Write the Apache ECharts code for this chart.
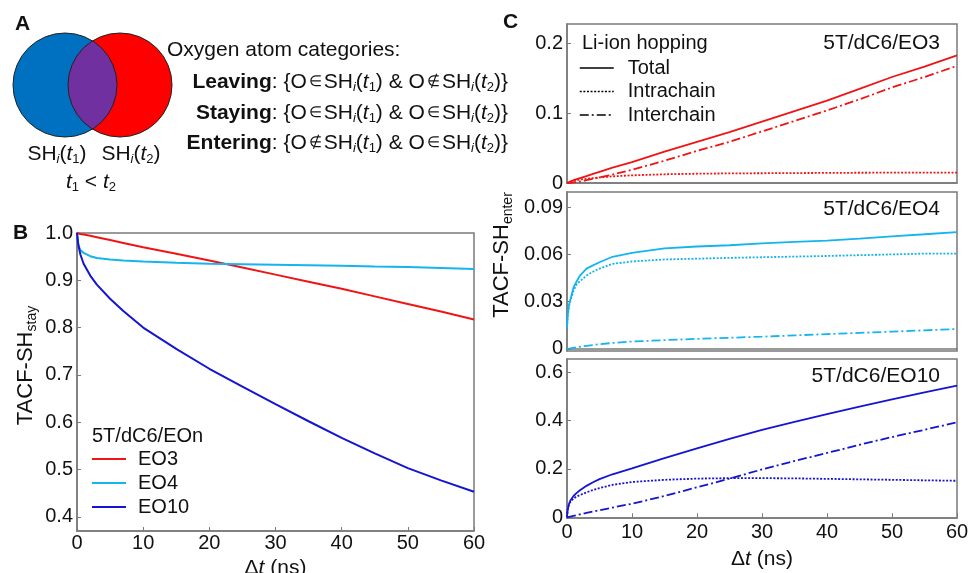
<!DOCTYPE html>
<html>
<head>
<meta charset="utf-8">
<script src="https://cdn.jsdelivr.net/npm/echarts@6/dist/echarts.min.js"></script>
<style>
  html, body { margin: 0; padding: 0; background: #fff; }
  #chart { width: 971px; height: 573px; }
</style>
</head>
<body>
<div id="chart"></div>
<script>
// panel B: TACF of staying oxygens
var tStay = [0, 0.2, 0.5, 1, 2, 3, 5, 7, 10, 15, 20, 25, 30, 35, 40, 45, 50, 55, 60];
var stayEO3 = [1.0, 0.999, 0.998, 0.997, 0.994, 0.991, 0.985, 0.979, 0.970, 0.956, 0.942, 0.927, 0.912, 0.897, 0.882, 0.866, 0.850, 0.834, 0.817];
var stayEO4 = [1.0, 0.975, 0.964, 0.958, 0.951, 0.947, 0.944, 0.942, 0.940, 0.937, 0.935, 0.934, 0.933, 0.932, 0.931, 0.929, 0.928, 0.926, 0.924];
var stayEO10 = [1.0, 0.975, 0.955, 0.935, 0.910, 0.891, 0.861, 0.835, 0.800, 0.755, 0.713, 0.675, 0.638, 0.602, 0.567, 0.534, 0.503, 0.477, 0.453];
var stayNames = ['EO3', 'EO4', 'EO10'];
var stayTicks = [0.4, 0.5, 0.6, 0.7, 0.8, 0.9, 1.0];

// panel C: TACF of entering oxygens (total / intrachain / interchain)
var tEnter = [0, 0.1, 0.3, 0.5, 1, 1.5, 2, 3, 4, 5, 7, 10, 15, 20, 25, 30, 35, 40, 45, 50, 55, 60];
var eo3Total = [0, 0.0004, 0.0012, 0.002, 0.004, 0.0055, 0.007, 0.010, 0.013, 0.016, 0.022, 0.030, 0.045, 0.059, 0.073, 0.088, 0.103, 0.118, 0.135, 0.152, 0.167, 0.183];
var eo3Intra = [0, 0.0004, 0.001, 0.0018, 0.003, 0.004, 0.005, 0.006, 0.007, 0.008, 0.0095, 0.011, 0.0125, 0.0133, 0.0138, 0.014, 0.0142, 0.0145, 0.0147, 0.0148, 0.0149, 0.015];
var eo3Inter = [0, 0, 0.0002, 0.0003, 0.001, 0.0015, 0.002, 0.004, 0.006, 0.008, 0.012, 0.019, 0.032, 0.046, 0.059, 0.074, 0.089, 0.104, 0.120, 0.137, 0.152, 0.168];
var eo4Total = [0.0138, 0.021, 0.028, 0.031, 0.039, 0.043, 0.0466, 0.051, 0.053, 0.055, 0.0585, 0.061, 0.0638, 0.065, 0.0658, 0.067, 0.068, 0.0688, 0.070, 0.0715, 0.0728, 0.0742];
var eo4Intra = [0.0136, 0.02, 0.027, 0.030, 0.037, 0.041, 0.043, 0.0466, 0.049, 0.051, 0.054, 0.0555, 0.0568, 0.0573, 0.0578, 0.0582, 0.0586, 0.059, 0.0595, 0.060, 0.0605, 0.0605];
var eo4Inter = [0, 0.0001, 0.0002, 0.0003, 0.0007, 0.001, 0.0014, 0.002, 0.0025, 0.003, 0.0038, 0.0047, 0.0056, 0.0064, 0.0071, 0.0078, 0.0086, 0.0094, 0.0102, 0.011, 0.0118, 0.0127];
var eo10Total = [0, 0.03, 0.055, 0.068, 0.088, 0.101, 0.112, 0.13, 0.145, 0.158, 0.178, 0.202, 0.245, 0.285, 0.324, 0.362, 0.395, 0.427, 0.458, 0.488, 0.517, 0.545];
var eo10Intra = [0, 0.03, 0.052, 0.063, 0.078, 0.086, 0.092, 0.103, 0.113, 0.121, 0.134, 0.146, 0.155, 0.160, 0.162, 0.162, 0.161, 0.159, 0.157, 0.155, 0.153, 0.151];
var eo10Inter = [0, 0.0005, 0.0015, 0.003, 0.006, 0.009, 0.012, 0.018, 0.024, 0.029, 0.040, 0.056, 0.088, 0.124, 0.160, 0.198, 0.233, 0.266, 0.300, 0.332, 0.362, 0.393];
var hopNames = ['Total', 'Intrachain', 'Interchain'];
var panelNames = ['5T/dC6/EO3', '5T/dC6/EO4', '5T/dC6/EO10'];
var enterTicks = [[0, 0.1, 0.2], [0, 0.03, 0.06, 0.09], [0, 0.2, 0.4, 0.6]];

var FONT = "'Liberation Sans', Arial, sans-serif";
var colors = ['#F01414', '#14B4EE', '#1414D2'];
var dashes = ['solid', [2, 1.6], [9, 3, 2, 3]];
var gray = '#7a7a7a';

function pts(t, v) {
    return t.map(function (x, i) { return [x, v[i]]; });
}

var richBase = {
    it: { fontStyle: 'italic', fontFamily: FONT, fontSize: 21, color: '#111' },
    sub: { fontFamily: FONT, fontSize: 13, color: '#111', padding: [10, 0, 0, 0] },
    isub: { fontFamily: FONT, fontSize: 13, fontStyle: 'italic', color: '#111', padding: [10, 0, 0, 0] },
    sym: { fontFamily: FONT, fontSize: 15, color: '#111', padding: [0, 2, 0, 2] },
    lv: { fontFamily: FONT, fontSize: 21, fontWeight: 'bold', color: '#0070C0' },
    st: { fontFamily: FONT, fontSize: 21, fontWeight: 'bold', color: '#7030A0' },
    en: { fontFamily: FONT, fontSize: 21, fontWeight: 'bold', color: '#FF0000' }
};

function txt(x, y, text, size, align, bold) {
    return {
        type: 'text', x: x, y: y, z: 10,
        style: {
            text: text, fontFamily: FONT, fontSize: size, fill: '#111',
            fontWeight: bold ? 'bold' : 'normal',
            align: align, verticalAlign: 'middle', rich: richBase
        }
    };
}

var grids = [
    { left: 77, top: 233, width: 397, height: 298 },
    { left: 567, top: 24, width: 390, height: 159 },
    { left: 567, top: 192, width: 390, height: 159 },
    { left: 567, top: 359, width: 390, height: 159 }
].map(function (g) {
    g.show = true; g.borderColor = gray; g.borderWidth = 1.5; g.backgroundColor = 'transparent';
    g.containLabel = false; g.outerBoundsMode = 'none';
    return g;
});

var yRanges = [[0.37, 1.0], [0, 0.228], [-0.0013, 0.0996], [-0.003, 0.655]];

var xAxes = grids.map(function (g, i) {
    var showLab = (i === 0 || i === 3);
    return {
        type: 'value', gridIndex: i, min: 0, max: 60, interval: 10,
        axisLine: { lineStyle: { color: gray, width: 1.5 } },
        axisTick: { show: showLab, inside: true, length: 4, lineStyle: { color: gray } },
        axisLabel: { show: showLab, fontFamily: FONT, fontSize: 20, color: '#111', margin: i === 0 ? 2 : 4 },
        splitLine: { show: false },
        name: showLab ? 'Δ{it|t} (ns)' : '',
        nameLocation: 'middle', nameGap: i === 0 ? 19 : 31,
        nameTextStyle: { fontFamily: FONT, fontSize: 21, color: '#111', rich: richBase }
    };
});

var yAxes = grids.map(function (g, i) {
    var ticks = i === 0 ? stayTicks : enterTicks[i - 1];
    var ax = {
        type: 'value', gridIndex: i, min: yRanges[i][0], max: yRanges[i][1],
        axisLine: { lineStyle: { color: gray, width: 1.5 } },
        axisTick: { inside: true, length: 4, customValues: ticks, lineStyle: { color: gray } },
        axisLabel: {
            customValues: ticks, fontFamily: FONT, fontSize: 20, color: '#111', margin: 4,
            formatter: i === 0 ? function (v) { return v.toFixed(1); } : function (v) { return String(+v.toFixed(3)); }
        },
        splitLine: { show: false }
    };
    var sty = { fontFamily: FONT, fontSize: 22, color: '#111', padding: [0, 0, 0, 33],
        rich: { s: { fontFamily: FONT, fontSize: 14, color: '#111', padding: [12, 0, 0, 0] } } };
    if (i === 0) {
        ax.name = 'TACF-SH{s|stay}'; ax.nameLocation = 'middle'; ax.nameGap = 38; ax.nameTextStyle = sty;
    } else if (i === 2) {
        ax.name = 'TACF-SH{s|enter}'; ax.nameLocation = 'middle'; ax.nameGap = 52; ax.nameTextStyle = sty;
    }
    return ax;
});

var series = [];
[stayEO3, stayEO4, stayEO10].forEach(function (v, i) {
    series.push({
        name: stayNames[i], type: 'line', xAxisIndex: 0, yAxisIndex: 0,
        data: pts(tStay, v), symbol: 'none',
        lineStyle: { color: colors[i], width: 2 }, itemStyle: { color: colors[i] }
    });
});
[[eo3Total, eo3Intra, eo3Inter], [eo4Total, eo4Intra, eo4Inter], [eo10Total, eo10Intra, eo10Inter]].forEach(function (set, p) {
    set.forEach(function (v, k) {
        series.push({
            name: hopNames[k], type: 'line', xAxisIndex: p + 1, yAxisIndex: p + 1,
            data: pts(tEnter, v), symbol: 'none',
            lineStyle: { color: colors[p], width: 1.8, type: dashes[k] }, itemStyle: { color: colors[p] }
        });
    });
});

// Venn diagram (schematic): two circles and their overlap lens
var c1 = [65, 85], c2 = [120, 85], R = 52;
var half = Math.acos((c2[0] - c1[0]) / 2 / R);
var lens = [];
for (var k = 0; k <= 30; k++) {
    var a = -half + 2 * half * k / 30;
    lens.push([c1[0] + R * Math.cos(a), c1[1] + R * Math.sin(a)]);
}
for (var k2 = 0; k2 <= 30; k2++) {
    var b = Math.PI - half + 2 * half * k2 / 30;
    lens.push([c2[0] + R * Math.cos(b), c2[1] - R * Math.sin(b)]);
}
var venn = [
    { type: 'circle', shape: { cx: c1[0], cy: c1[1], r: R }, style: { fill: '#0070C0' } },
    { type: 'circle', shape: { cx: c2[0], cy: c2[1], r: R }, style: { fill: '#FF0000' } },
    { type: 'polygon', shape: { points: lens }, style: { fill: '#7030A0' } },
    { type: 'circle', shape: { cx: c1[0], cy: c1[1], r: R }, style: { fill: 'none', stroke: '#222', lineWidth: 1 } },
    { type: 'circle', shape: { cx: c2[0], cy: c2[1], r: R }, style: { fill: 'none', stroke: '#222', lineWidth: 1 } }
];

var texts = [
    txt(15, 24, 'A', 21, 'left', true),
    txt(13, 233, 'B', 21, 'left', true),
    txt(503, 22, 'C', 21, 'left', true),
    txt(167, 50, 'Oxygen atom categories:', 21, 'left'),
    txt(508, 82, '{lv|Leaving}: {O{sym|∈}SH{isub|i}({it|t}{sub|1}) & O{sym|∉}SH{isub|i}({it|t}{sub|2})}', 21, 'right'),
    txt(508, 113, '{st|Staying}: {O{sym|∈}SH{isub|i}({it|t}{sub|1}) & O{sym|∈}SH{isub|i}({it|t}{sub|2})}', 21, 'right'),
    txt(508, 143, '{en|Entering}: {O{sym|∉}SH{isub|i}({it|t}{sub|1}) & O{sym|∈}SH{isub|i}({it|t}{sub|2})}', 21, 'right'),
    txt(57, 154, 'SH{isub|i}({it|t}{sub|1})', 21, 'center'),
    txt(131, 154, 'SH{isub|i}({it|t}{sub|2})', 21, 'center'),
    txt(91, 182, '{it|t}{sub|1} < {it|t}{sub|2}', 21, 'center'),
    txt(92, 436, '5T/dC6/EOn', 20, 'left'),
    txt(582, 43, 'Li-ion hopping', 20, 'left'),
    txt(940, 43, panelNames[0], 21, 'right'),
    txt(940, 209, panelNames[1], 21, 'right'),
    txt(940, 376, panelNames[2], 21, 'right')
];

var chart = echarts.init(document.getElementById('chart'), null, { renderer: 'canvas' });
chart.setOption({
    animation: false,
    backgroundColor: '#fff',
    textStyle: { fontFamily: FONT },
    grid: grids,
    xAxis: xAxes,
    yAxis: yAxes,
    legend: [
        {
            data: stayNames, orient: 'vertical', left: 91, top: 449, padding: 0,
            itemWidth: 34, itemHeight: 12, itemGap: 4, selectedMode: false,
            itemStyle: { opacity: 0 },
            textStyle: { fontFamily: FONT, fontSize: 20, color: '#111', padding: [0, 0, 0, 7] }
        },
        {
            data: hopNames, orient: 'vertical', left: 579, top: 58, padding: 0,
            itemWidth: 34, itemHeight: 12, itemGap: 3.5, selectedMode: false,
            itemStyle: { opacity: 0 },
            lineStyle: { color: '#000', width: 1.5 },
            textStyle: { fontFamily: FONT, fontSize: 20, color: '#111', padding: [0, 0, 0, 9] }
        }
    ],
    graphic: venn.concat(texts),
    series: series
});
</script>
</body>
</html>
